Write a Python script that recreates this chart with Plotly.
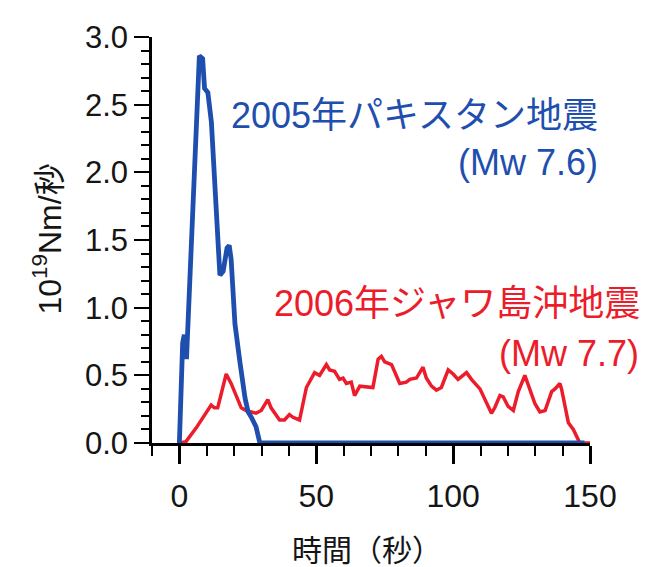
import plotly.graph_objects as go

# Pakistan 2005 (blue) moment-rate function
blue_t = [0, 1.2, 1.8, 2.6, 7.3, 8.5, 9.2, 10.4, 11.7, 14.8, 16.0, 17.4, 18.2, 18.9, 20.3,
          21.4, 22.1, 24.0, 25.1, 26.3, 28.0, 29.4, 148]
blue_v = [0, 0.74, 0.80, 0.62, 2.86, 2.84, 2.62, 2.59, 2.37, 1.24, 1.27, 1.44, 1.46, 1.36, 0.88,
          0.66, 0.60, 0.33, 0.23, 0.19, 0.12, 0, 0]

# Java 2006 (red) moment-rate function
red_t = [0, 2.4, 6.1, 11.6, 12.8, 14.0, 17.1, 18.9, 22.6, 24.4, 28.0, 29.9, 32.3, 33.5, 36.6, 38.4,
         40.2, 41.5, 43.9, 46.4, 49.4, 51.2, 53.7, 54.9, 56.7, 58.5, 59.8, 61.0, 62.8, 64.0, 65.9,
         70.7, 72.6, 73.8, 75.0, 77.5, 80.5, 82.9, 84.2, 86.6, 89.0, 90.2, 92.1, 93.9, 95.7, 98.2,
         100.0, 101.8, 104.9, 106.7, 109.8, 112.2, 114.0, 115.2, 117.1, 118.3, 120.1, 122.0, 123.8,
         126.2, 128.1, 129.9, 131.7, 133.6, 136.0, 137.2, 139.0, 139.6, 142.1, 143.9, 146.3, 150]
red_v = [0, 0.01, 0.11, 0.28, 0.26, 0.26, 0.51, 0.44, 0.26, 0.24, 0.22, 0.24, 0.32, 0.26, 0.17, 0.17,
         0.21, 0.19, 0.17, 0.41, 0.52, 0.50, 0.58, 0.54, 0.53, 0.47, 0.48, 0.44, 0.45, 0.35, 0.42,
         0.41, 0.62, 0.64, 0.60, 0.58, 0.44, 0.45, 0.47, 0.48, 0.56, 0.48, 0.42, 0.39, 0.41, 0.54,
         0.51, 0.47, 0.52, 0.47, 0.40, 0.30, 0.22, 0.26, 0.35, 0.34, 0.27, 0.24, 0.38, 0.50, 0.39,
         0.29, 0.23, 0.24, 0.38, 0.40, 0.44, 0.40, 0.15, 0.10, 0, 0]

x_ticks = [0, 50, 100, 150]
y_ticks = [0.0, 0.5, 1.0, 1.5, 2.0, 2.5, 3.0]
y_tick_text = ["0.0", "0.5", "1.0", "1.5", "2.0", "2.5", "3.0"]

BLUE = "#1f4fae"
RED = "#ec1c2a"
INK = "#151515"
FONT = "Liberation Sans, Arial, Noto Sans CJK JP, sans-serif"

# the page body adds an 8px margin, so the figure is 8px smaller than the window
W, H = 651, 559
L, R, T, B = 144, 69, 22, 124
PW, PH = W - L - R, H - T - B


def px_x(px):  # window pixel -> paper x
    return (px - 8 - L) / PW


def px_y(py):  # window pixel -> paper y
    return (H - B - (py - 8)) / PH


fig = go.Figure()
fig.add_trace(go.Scatter(x=red_t, y=red_v, mode="lines",
                         line=dict(color=RED, width=3.5), showlegend=False))
fig.add_trace(go.Scatter(x=blue_t, y=blue_v, mode="lines",
                         line=dict(color=BLUE, width=4.8), showlegend=False))

fig.update_layout(
    width=W, height=H,
    margin=dict(l=L, r=R, t=T, b=B),
    paper_bgcolor="white", plot_bgcolor="white",
    font=dict(family=FONT, color=INK),
    xaxis=dict(range=[-10, 150], tickvals=x_ticks, ticks="outside", ticklen=18, tickwidth=2.5,
               tickcolor="black", showline=True, linecolor="black", linewidth=3,
               showgrid=False, zeroline=False, ticklabelstandoff=5,
               tickfont=dict(size=32, family=FONT, color=INK),
               minor=dict(dtick=10, tick0=0, ticks="outside", ticklen=10, tickwidth=2,
                          tickcolor="black", showgrid=False)),
    yaxis=dict(range=[0, 3], tickvals=y_ticks, ticktext=y_tick_text, ticks="outside",
               ticklen=15, tickwidth=2, tickcolor="black", showline=True, linecolor="black",
               linewidth=2.5, showgrid=False, zeroline=False,
               tickfont=dict(size=31, family=FONT, color=INK),
               minor=dict(dtick=0.1, tick0=0, ticks="outside", ticklen=8, tickwidth=2,
                          tickcolor="black", showgrid=False)),
)

ann_font = dict(family=FONT, size=36)
labels = [
    ("2005年パキスタン地震", 600, 110, BLUE),
    ("(Mw 7.6)", 600, 158, BLUE),
    ("2006年ジャワ島沖地震", 642, 301, RED),
    ("(Mw 7.7)", 641, 352, RED),
]
for text, rx, cy, col in labels:
    fig.add_annotation(x=px_x(rx), y=px_y(cy), xref="paper", yref="paper", text=text,
                       showarrow=False, xanchor="right", yanchor="middle",
                       font=dict(ann_font, color=col))

# axis titles
fig.add_annotation(x=px_x(367), y=px_y(552), xref="paper", yref="paper",
                   text="時間（秒）", showarrow=False, xanchor="center", yanchor="middle",
                   font=dict(family=FONT, size=30, color=INK))
fig.add_annotation(x=px_x(47), y=px_y(236), xref="paper", yref="paper",
                   text="10<sup>19</sup>Nm/秒", textangle=-90, showarrow=False,
                   xanchor="center", yanchor="middle",
                   font=dict(family=FONT, size=32, color=INK))

fig.write_html("out.html")
